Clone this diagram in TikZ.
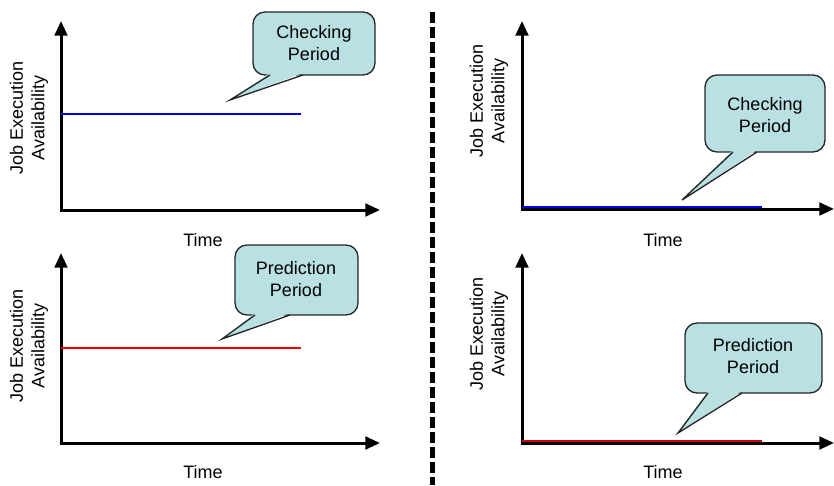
\documentclass[tikz,border=0pt]{standalone}
\usepackage{fontspec}
\setmainfont{Liberation Sans}
\usetikzlibrary{arrows.meta}
\definecolor{bubblefill}{RGB}{185,224,226}
\definecolor{levelblue}{RGB}{0,0,230}
\definecolor{levelred}{RGB}{245,0,0}

% speech bubble: #1 left, #2 top, #3 right, #4 bottom, #5 tail tip, #6/#7 tail base x-range
\newcommand\speechbubble[7]{%
  \path[bubble, rounded corners=9pt] (#1,#2) rectangle (#3,#4);
  \fill[bubblefill] (#6,#4-2) -- #5 -- (#7,#4-2) -- cycle;
  \draw[bubbleline] (#6,#4) -- #5 -- (#7,#4);
}

\begin{document}
\begin{tikzpicture}[x=0.75pt,y=-0.75pt,
  axis/.style={line width=2.25pt,
    {Triangle[length=11pt,width=9.5pt]}-{Triangle[length=11pt,width=9.5pt]}},
  level/.style={line width=2pt},
  bubble/.style={fill=bubblefill, draw=black!85, line width=1pt},
  bubbleline/.style={draw=black!85, line width=1pt, line join=miter},
  lbl/.style={font=\fontsize{13.5}{16}\selectfont, align=center, inner sep=0pt},
  divider/.style={line width=3.75pt, dash pattern=on 8.25pt off 3pt},
]
\useasboundingbox (0,0) rectangle (834,485);

% ---------- axes ----------
\coordinate (o1) at (61,210);  \coordinate (y1) at (61,21);  \coordinate (x1) at (380,210);
\coordinate (o2) at (61,443);  \coordinate (y2) at (61,253); \coordinate (x2) at (380,443);
\coordinate (o3) at (522,209); \coordinate (y3) at (522,21); \coordinate (x3) at (834,209);
\coordinate (o4) at (522,443); \coordinate (y4) at (522,253);\coordinate (x4) at (834,443);
\foreach \i in {1,2,3,4} \draw[axis] (y\i) -- (o\i) -- (x\i);

% ---------- availability levels ----------
\coordinate (b1s) at (61,114);  \coordinate (b1e) at (301,114);
\coordinate (r2s) at (61,348);  \coordinate (r2e) at (301,348);
\coordinate (b3s) at (522,207); \coordinate (b3e) at (762,207);
\coordinate (r4s) at (522,441); \coordinate (r4e) at (762,441);
\draw[level, levelblue] (b1s) -- (b1e);
\draw[level, levelred]  (r2s) -- (r2e);
\draw[level, levelblue] (b3s) -- (b3e);
\draw[level, levelred!85!black]  (r4s) -- (r4e);

% ---------- axis labels ----------
\node[lbl, rotate=90] (ya1) at (29,118) {Job Execution\\Availability};
\node[lbl, rotate=90] (ya2) at (29,346) {Job Execution\\Availability};
\node[lbl, rotate=90] (ya3) at (489,101) {Job Execution\\Availability};
\node[lbl, rotate=90] (ya4) at (489,334) {Job Execution\\Availability};
\node[lbl] (t1) at (203,240) {Time};
\node[lbl] (t2) at (203,472) {Time};
\node[lbl] (t3) at (663,240) {Time};
\node[lbl] (t4) at (663,472) {Time};

% ---------- speech bubbles ----------
\coordinate (tip1) at (230,100);
\coordinate (tip2) at (222,339);
\coordinate (tip3) at (682,200);
\coordinate (tip4) at (678,433);
\speechbubble{253}{12}{375}{75}{(tip1)}{270}{303}
\node[lbl] (c1) at (314,43) {Checking\\Period};
\speechbubble{235}{245}{358}{315}{(tip2)}{255}{290}
\node[lbl] (c2) at (296,279) {Prediction\\Period};
\speechbubble{705}{75}{825}{152}{(tip3)}{733}{757}
\node[lbl] (c3) at (765,115) {Checking\\Period};
\speechbubble{685}{323}{822}{393}{(tip4)}{708}{742}
\node[lbl] (c4) at (753,356) {Prediction\\Period};

% ---------- divider ----------
\coordinate (dtop) at (432.5,12);
\coordinate (dbot) at (432.5,485);
\draw[divider] (dtop) -- (dbot);
\end{tikzpicture}
\end{document}
